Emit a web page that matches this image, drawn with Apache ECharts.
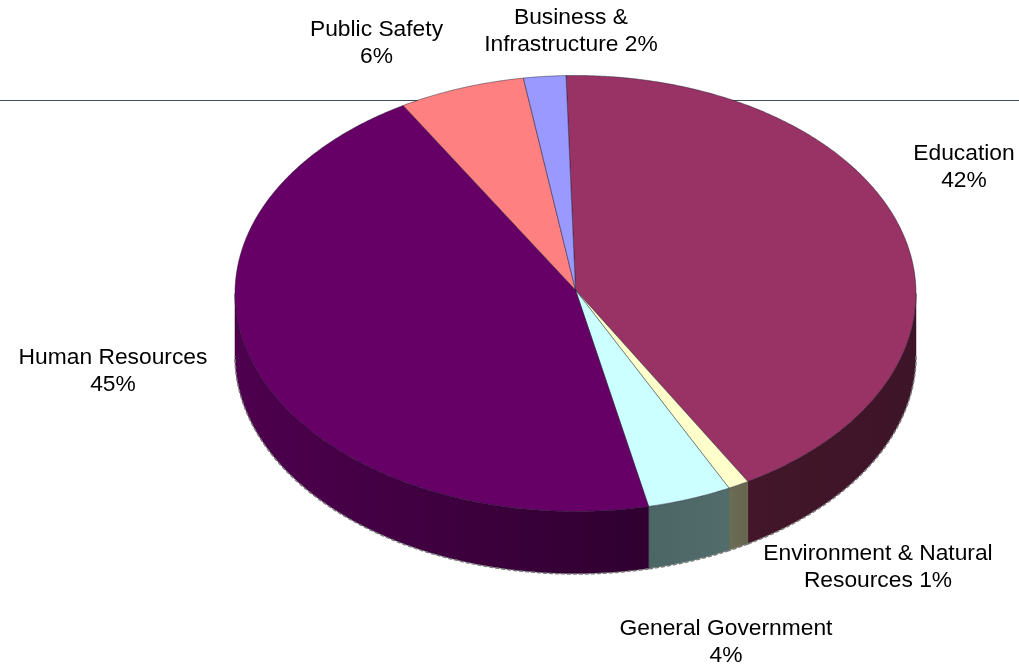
<!DOCTYPE html>
<html>
<head>
<meta charset="utf-8">
<style>html,body{margin:0;padding:0;background:#fff}#main{width:1019px;height:668px}</style>
<script src="https://cdn.jsdelivr.net/npm/echarts@6/dist/echarts.min.js"></script>
</head>
<body>
<div id="main"></div>
<script>
// Budget shares, clockwise from the top of the pie
const categories = ['Education', 'Environment & Natural Resources', 'General Government', 'Human Resources', 'Public Safety', 'Business & Infrastructure'];
const shares = [42, 1, 4, 45, 6, 2];
const labelFirstLines = ['Education', 'Environment & Natural', 'General Government', 'Human Resources', 'Public Safety', 'Business &'];
const labelSecondLines = ['', 'Resources', '', '', '', 'Infrastructure'];

// Pie geometry and styling
const pie = { cx: 575.5, cy: 293.5, apexY: 290, rx: 340.5, ry: 218, depth: 62, startDeg: -1.6 };
const topColors = ['#993366', '#FFFFCC', '#CCFFFF', '#660066', '#FF8080', '#9999FF'];
const wallColors = [['#3e1428', '#431629'], ['#66664f', '#6c6c55'], ['#526c6c', '#4c6666'], ['#2f0030', '#4e004e'], ['#663333', '#663333'], ['#3d3d66', '#3d3d66']];
const labelCentres = [[964, 154], [878, 554], [726, 629], [113, 358], [376.5, 30], [571, 18]];
const total = shares.reduce((a, b) => a + b, 0);

function rim(deg, dy) {
  const t = deg * Math.PI / 180;
  return [pie.cx + pie.rx * Math.sin(t), pie.cy - pie.ry * Math.cos(t) + (dy || 0)];
}
function arc(from, to, dy) {
  const pts = [];
  const n = Math.max(2, Math.ceil(Math.abs(to - from) * 2));
  for (let i = 0; i <= n; i++) pts.push(rim(from + (to - from) * i / n, dy));
  return pts;
}
function sliceAngles(index) {
  let sum = 0;
  for (let i = 0; i < index; i++) sum += shares[i];
  return [pie.startDeg + sum / total * 360, pie.startDeg + (sum + shares[index]) / total * 360];
}

function renderSlice(params, api) {
  const i = api.value(0);
  const [a0, a1] = sliceAngles(i);
  const children = [];

  // Outer wall: only the front half of the rim is visible
  const w0 = Math.max(a0, 90), w1 = Math.min(a1, 270);
  if (w1 > w0) {
    const upper = arc(w0, w1, 0);
    const lower = arc(w1, w0, pie.depth);
    const xa = Math.min(upper[0][0], upper[upper.length - 1][0]);
    const xb = Math.max(upper[0][0], upper[upper.length - 1][0]);
    const grad = new echarts.graphic.LinearGradient(xa, 0, xb, 0, [
      { offset: 0, color: wallColors[i][1] },
      { offset: 1, color: wallColors[i][0] }
    ], true);
    children.push({ type: 'polygon', shape: { points: upper.concat(lower) }, style: { fill: grad, stroke: wallColors[i][0], lineWidth: 0.5 } });
    children.push({ type: 'polyline', shape: { points: arc(w0, w1, pie.depth + 0.5) }, style: { fill: null, stroke: '#7a7a7a', lineWidth: 1.5, lineDash: [4, 2] } });
  }

  // Top face
  const face = [[pie.cx, pie.apexY]].concat(arc(a0, a1, 0));
  children.push({ type: 'polygon', shape: { points: face }, style: { fill: topColors[i], stroke: 'rgba(20,20,40,0.55)', lineWidth: 0.8 } });

  // Category label with its percentage
  const second = labelSecondLines[i];
  const text = labelFirstLines[i] + '\n' + (second ? second + ' ' : '') + api.value(1) + '%';
  children.push({
    type: 'text', z2: 10,
    style: {
      text, x: labelCentres[i][0], y: labelCentres[i][1] - 13.5, align: 'center', verticalAlign: 'top',
      fill: '#000', font: '22.8px "Liberation Sans", Arial, sans-serif', lineHeight: 27
    }
  });
  return { type: 'group', children };
}

const chart = echarts.init(document.getElementById('main'), null, { renderer: 'canvas' });
chart.setOption({
  backgroundColor: '#fff',
  animation: false,
  graphic: [{
    type: 'line', z: -1, silent: true,
    shape: { x1: 0, y1: 100.5, x2: 1019, y2: 100.5 },
    style: { stroke: '#3f4f55', lineWidth: 1 }
  }],
  series: [{
    type: 'custom',
    coordinateSystem: 'none',
    z: 2,
    renderItem: renderSlice,
    data: shares.map((v, i) => ({ name: categories[i], value: [i, v] }))
  }]
});
</script>
</body>
</html>
